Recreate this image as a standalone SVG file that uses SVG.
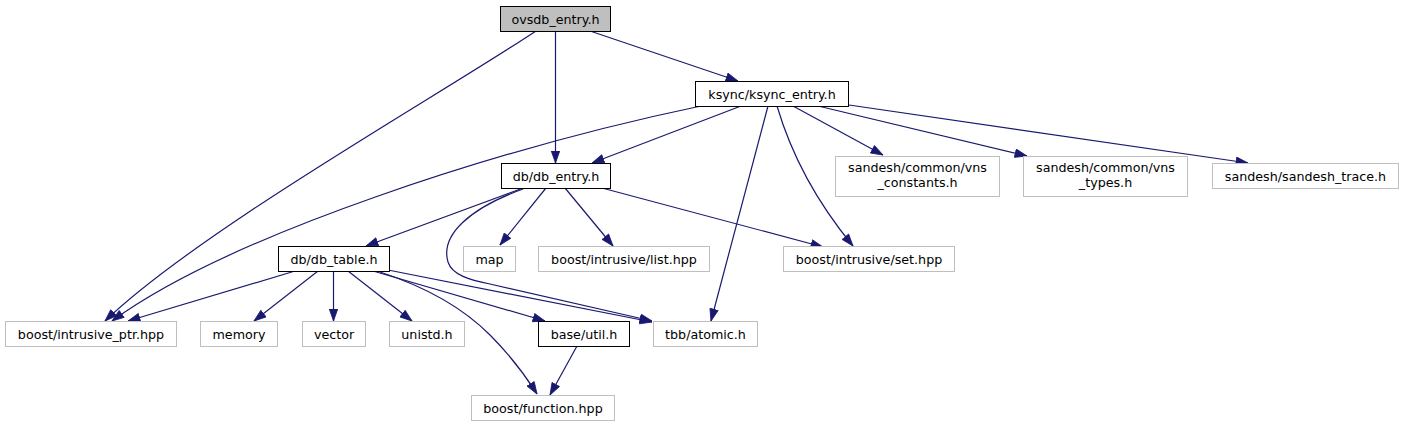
<svg xmlns="http://www.w3.org/2000/svg" width="1404" height="427" viewBox="0 0 1404 427">
<style>
  .bg{fill:#ffffff}
  .n rect{fill:#ffffff;stroke:#bfbfbf;stroke-width:1}
  .n.doc rect{stroke:#000000}
  .n.root rect{fill:#bfbfbf;stroke:#000000}
  .n text{font-family:"DejaVu Sans","Liberation Sans",sans-serif;font-size:12.7px;fill:#000000;text-anchor:middle}
  .e path{fill:none;stroke:#191970;stroke-width:1.2;marker-end:url(#ah)}
</style>
<defs>
  <marker id="ah" markerUnits="userSpaceOnUse" markerWidth="13" markerHeight="10" refX="12.5" refY="4.75" orient="auto">
    <path d="M0.5,0.5 L12.5,4.75 L0.5,9 z" fill="#191970" stroke="#191970" stroke-width="0.8"/>
  </marker>
</defs>
<rect class="bg" x="0" y="0" width="1404" height="427"/>

<g id="connectors" class="e">
  <path d="M536,31 C440,95 200,230 105,321"/>
  <path d="M555.5,31 L555.5,163"/>
  <path d="M590,31 L738,81"/>
  <path d="M701,106 C500,148 230,235 112,321"/>
  <path d="M741,106 L592,163"/>
  <path d="M768,106 L711,321"/>
  <path d="M777,106 C790,150 815,200 853,246"/>
  <path d="M793,106 L883,155"/>
  <path d="M818,106 L1027,156"/>
  <path d="M849,105 L1248,163"/>
  <path d="M523,188 L366,246"/>
  <path d="M546,188 L500,245"/>
  <path d="M565,188 L613,246"/>
  <path d="M602,188 L823,247"/>
  <path d="M523,189 C470,208 440,235 448,262 C452,275 470,280 490,284 L652,321"/>
  <path d="M295,271 L128,321"/>
  <path d="M318,271 L254,321"/>
  <path d="M333.5,271 L333.5,321"/>
  <path d="M348,271 L412,321"/>
  <path d="M373,271 L545,321"/>
  <path d="M388,270 L652,322"/>
  <path d="M380,272 C420,285 460,305 490,335 C510,355 525,375 537,394"/>
  <path d="M577,346 L550,395"/>
</g>

<g id="ovsdb_entry" class="n root"><rect x="500.5" y="6.5" width="110" height="25"/><text x="555.5" y="23.5">ovsdb_entry.h</text></g>
<g id="ksync_entry" class="n doc"><rect x="695.5" y="81.5" width="153" height="25"/><text x="772" y="98.5">ksync/ksync_entry.h</text></g>
<g id="db_entry" class="n doc"><rect x="501.5" y="163.5" width="109" height="25"/><text x="556" y="180.5">db/db_entry.h</text></g>
<g id="vns_constants" class="n"><rect x="835.5" y="156.5" width="164" height="40"/><text x="917.5" y="172">sandesh/common/vns</text><text x="917.5" y="187">_constants.h</text></g>
<g id="vns_types" class="n"><rect x="1023.5" y="156.5" width="164" height="40"/><text x="1105.5" y="172">sandesh/common/vns</text><text x="1105.5" y="187">_types.h</text></g>
<g id="sandesh_trace" class="n"><rect x="1212.5" y="163.5" width="186" height="25"/><text x="1305.5" y="180.5">sandesh/sandesh_trace.h</text></g>
<g id="db_table" class="n doc"><rect x="278.5" y="246.5" width="111" height="25"/><text x="334" y="263.5">db/db_table.h</text></g>
<g id="map" class="n"><rect x="463.5" y="246.5" width="52" height="25"/><text x="489.5" y="263.5">map</text></g>
<g id="list_hpp" class="n"><rect x="538.5" y="246.5" width="171" height="25"/><text x="624" y="263.5">boost/intrusive/list.hpp</text></g>
<g id="set_hpp" class="n"><rect x="783.5" y="246.5" width="171" height="25"/><text x="869" y="263.5">boost/intrusive/set.hpp</text></g>
<g id="intrusive_ptr" class="n"><rect x="5.5" y="321.5" width="171" height="25"/><text x="91" y="338.5">boost/intrusive_ptr.hpp</text></g>
<g id="memory" class="n"><rect x="200.5" y="321.5" width="77" height="25"/><text x="239" y="338.5">memory</text></g>
<g id="vector" class="n"><rect x="302.5" y="321.5" width="63" height="25"/><text x="334" y="338.5">vector</text></g>
<g id="unistd" class="n"><rect x="389.5" y="321.5" width="75" height="25"/><text x="427" y="338.5">unistd.h</text></g>
<g id="base_util" class="n doc"><rect x="538.5" y="321.5" width="91" height="25"/><text x="584" y="338.5">base/util.h</text></g>
<g id="tbb_atomic" class="n"><rect x="653.5" y="321.5" width="104" height="25"/><text x="705.5" y="338.5">tbb/atomic.h</text></g>
<g id="function_hpp" class="n"><rect x="471.5" y="395.5" width="143" height="25"/><text x="543" y="412.5">boost/function.hpp</text></g>
</svg>
